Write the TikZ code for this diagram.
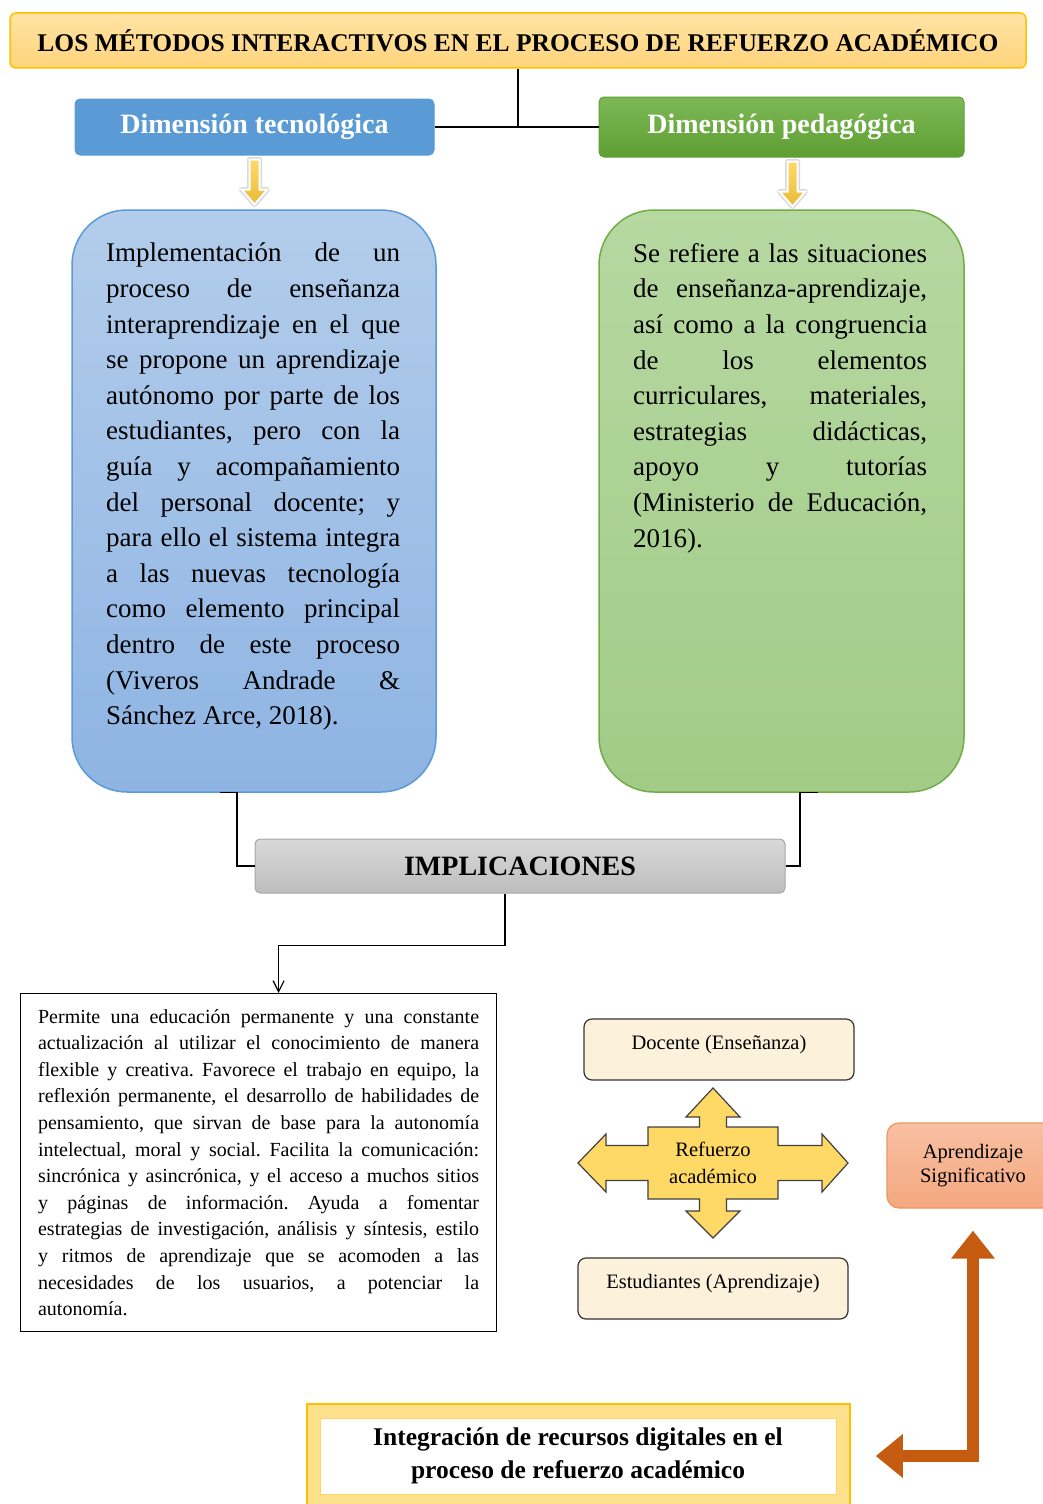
\documentclass[tikz,border=0pt]{standalone}
\usepackage{fontspec}
\setmainfont{Liberation Serif}
\usepackage{xcolor}
\usepackage{tikz}
\usetikzlibrary{arrows.meta}

\definecolor{tituloBorde}{HTML}{FFC000}
\definecolor{tituloArriba}{HTML}{FFE3A4}
\definecolor{tituloFondo}{HTML}{FFD47C}
\definecolor{azulCab}{HTML}{5B9BD5}
\definecolor{azulArriba}{HTML}{B3CDEB}
\definecolor{azulAbajo}{HTML}{8EB4E3}
\definecolor{verdeClaro}{HTML}{7DB957}
\definecolor{verdeCab}{HTML}{5E9E32}
\definecolor{verdeBorde}{HTML}{70AD47}
\definecolor{verdeArriba}{HTML}{B6D8A1}
\definecolor{verdeAbajo}{HTML}{A2CB87}
\definecolor{grisArriba}{HTML}{D9D9D9}
\definecolor{grisAbajo}{HTML}{BDBDBD}
\definecolor{grisBorde}{HTML}{A6A6A6}
\definecolor{crema}{HTML}{FCF2DC}
\definecolor{oro}{HTML}{FFD966}
\definecolor{oroFlecha}{HTML}{E8BC3A}
\definecolor{salmonArriba}{HTML}{F8C0A2}
\definecolor{salmonAbajo}{HTML}{F4A880}
\definecolor{naranjaBorde}{HTML}{F0955E}
\definecolor{naranja}{HTML}{C55A11}
\definecolor{integFondo}{HTML}{FFE08C}

\hyphenpenalty=10000
\exhyphenpenalty=10000
\frenchspacing

% small golden arrow under a dimension header
\newcommand{\flechaOro}[1]{%
  \draw[shift={(#1)}, line width=5pt, black!15, line join=round]
    (-5,4) -- (5,4) -- (5,34) -- (13,34) -- (0,49) -- (-13,34) -- (-5,34) -- cycle;
  \filldraw[shift={(#1)}, draw=white, line width=2pt, top color=oro, bottom color=oroFlecha]
    (-5,4) -- (5,4) -- (5,34) -- (13,34) -- (0,49) -- (-13,34) -- (-5,34) -- cycle;
}

\begin{document}
\begin{tikzpicture}[x=1pt, y=-1pt,
    caja/.style={rounded corners=5pt, align=center, inner sep=0pt},
    cabecera/.style={caja, text=white, line width=1pt, font=\bfseries\fontsize{28}{32}\selectfont},
    cuerpo/.style={anchor=north west, inner sep=0pt, text width=294pt, align=justify, font=\fontsize{27}{35.6}\selectfont},
    nivel/.style={caja, rounded corners=8pt, draw=black!80, line width=1.2pt, fill=crema, minimum width=270pt, minimum height=61pt,
                  text height=15pt, text depth=16pt, font=\fontsize{20.5}{24}\selectfont},
    conector/.style={line width=1.2pt}]

    \useasboundingbox (0,0) rectangle (1042,1504);

    % Draw the title
    \node[caja, rounded corners=6pt, draw=tituloBorde, line width=1.5pt, top color=tituloArriba, bottom color=tituloFondo,
          minimum width=1016pt, minimum height=55pt, font=\bfseries\fontsize{25.5}{30}\selectfont] (titulo) at (518,40.5)
          {LOS MÉTODOS INTERACTIVOS EN EL PROCESO DE REFUERZO ACADÉMICO};

    % Draw the two dimensions
    \node[cabecera, fill=azulCab, draw=azulCab, minimum width=359pt, minimum height=56pt] (dimTec) at (254.5,127) {Dimensión tecnológica};
    \node[cabecera, top color=verdeClaro, bottom color=verdeCab, draw=verdeCab, minimum width=365pt, minimum height=60pt] (dimPed) at (781.5,127) {Dimensión pedagógica};

    \draw[conector] (titulo.south) -- (titulo.south |- dimTec.east);
    \draw[conector] (dimTec.east) -- (dimPed.west);

    % Draw the big rounded boxes
    \node[caja, rounded corners=55pt, draw=azulCab, line width=1.5pt, top color=azulArriba, bottom color=azulAbajo,
          minimum width=364pt, minimum height=582pt] (cajaTec) at (254,501) {};
    \node[caja, rounded corners=55pt, draw=verdeBorde, line width=1.5pt, top color=verdeArriba, bottom color=verdeAbajo,
          minimum width=365pt, minimum height=582pt] (cajaPed) at (781.5,501) {};

    \flechaOro{dimTec.south}
    \flechaOro{[xshift=11pt]dimPed.south}

    \node[cuerpo] (textoTec) at (106,243) {Implementación de un\linebreak
      proceso de enseñanza\linebreak
      interaprendizaje en el que\linebreak
      se propone un aprendizaje\linebreak
      autónomo por parte de los\linebreak
      estudiantes, pero con la\linebreak
      guía y acompañamiento\linebreak
      del personal docente; y\linebreak
      para ello el sistema integra\linebreak
      a las nuevas tecnología\linebreak
      como elemento principal\linebreak
      dentro de este proceso\linebreak
      (Viveros Andrade \&\linebreak
      Sánchez Arce, 2018).};

    \node[cuerpo] (textoPed) at (633,243) {Se refiere a las situaciones\linebreak
      de enseñanza-aprendizaje,\linebreak
      así como a la congruencia\linebreak
      de los elementos\linebreak
      curriculares, materiales,\linebreak
      estrategias didácticas,\linebreak
      apoyo y tutorías\linebreak
      (Ministerio de Educación,\linebreak
      2016).};

    % Draw the implications
    \node[caja, draw=grisBorde, line width=1pt, top color=grisArriba, bottom color=grisAbajo,
          minimum width=530pt, minimum height=54pt, font=\bfseries\fontsize{28}{32}\selectfont] (implic) at (520,866) {IMPLICACIONES};

    \draw[conector] ([xshift=-34pt]cajaTec.south) -- ([xshift=-17pt]cajaTec.south) |- (implic.west);
    \draw[conector] ([xshift=36pt]cajaPed.south) -- ([xshift=18.5pt]cajaPed.south) |- (implic.east);

    \node[draw, line width=1.2pt, anchor=north west, minimum height=338pt, text width=441pt, inner xsep=17.5pt,
          align=justify, font=\fontsize{20}{26.6}\selectfont] (textoImp) at (20,993)
      {Permite una educación permanente y una constante\linebreak
      actualización al utilizar el conocimiento de manera\linebreak
      flexible y creativa. Favorece el trabajo en equipo, la\linebreak
      reflexión permanente, el desarrollo de habilidades de\linebreak
      pensamiento, que sirvan de base para la autonomía\linebreak
      intelectual, moral y social. Facilita la comunicación:\linebreak
      sincrónica y asincrónica, y el acceso a muchos sitios\linebreak
      y páginas de información. Ayuda a fomentar\linebreak
      estrategias de investigación, análisis y síntesis, estilo\linebreak
      y ritmos de aprendizaje que se acomoden a las\linebreak
      necesidades de los usuarios, a potenciar la\linebreak
      autonomía.};

    \draw[conector, -{Straight Barb[length=11pt,width=11pt]}] ([xshift=-15pt]implic.south) -- ++(0,52) -| ([xshift=20pt]textoImp.north);

    % Draw the four-way arrow of the reinforcement
    \coordinate (centroRef) at (713,1163);
    \filldraw[shift={(centroRef)}, fill=oro, draw=black!75, line width=1.2pt, line join=miter]
      (0,-75) -- (27,-46) -- (13.5,-46) -- (13.5,-36) -- (65,-36) -- (65,-17.5) -- (109,-17.5) -- (109,-29)
      -- (135,0) -- (109,29) -- (109,17.5) -- (65,17.5) -- (65,36) -- (13.5,36) -- (13.5,48) -- (27,48)
      -- (0,75) -- (-27,48) -- (-13.5,48) -- (-13.5,36) -- (-65,36) -- (-65,17.5) -- (-107,17.5) -- (-107,29)
      -- (-135,0) -- (-107,-29) -- (-107,-17.5) -- (-65,-17.5) -- (-65,-36) -- (-13.5,-36) -- (-13.5,-46) -- (-27,-46) -- cycle;
    \node[align=center, inner sep=0pt, font=\fontsize{20.5}{27}\selectfont] (refuerzo) at (centroRef) {Refuerzo\\académico};

    \node[nivel] (docente) at (719,1049.5) {Docente (Enseñanza)};
    \node[nivel] (estudiantes) at (713,1288.5) {Estudiantes (Aprendizaje)};

    % Draw the meaningful learning box
    \node[caja, rounded corners=12pt, draw=naranjaBorde, line width=1.2pt, top color=salmonArriba, bottom color=salmonAbajo,
          minimum width=172pt, minimum height=85pt, font=\fontsize{20.5}{24}\selectfont] (aprend) at (973,1165.5) {Aprendizaje\\Significativo};

    % Draw the integration box
    \node[draw=tituloBorde, line width=1.5pt, fill=integFondo, minimum width=543pt, minimum height=104pt] (integ) at (578.5,1456) {};
    \node[draw=integFondo!70!tituloBorde, fill=white, minimum width=516pt, minimum height=76pt, align=center,
          font=\bfseries\fontsize{25.5}{33}\selectfont] (integTexto) at (578,1456)
          {Integración de recursos digitales en el\\proceso de refuerzo académico};

    \draw[line width=12pt, naranja, {Triangle[width=42pt,length=27pt]}-{Triangle[width=42pt,length=28pt]}]
      ([xshift=25pt]integ.east) -| ([yshift=-22pt]aprend.south);

\end{tikzpicture}
\end{document}
